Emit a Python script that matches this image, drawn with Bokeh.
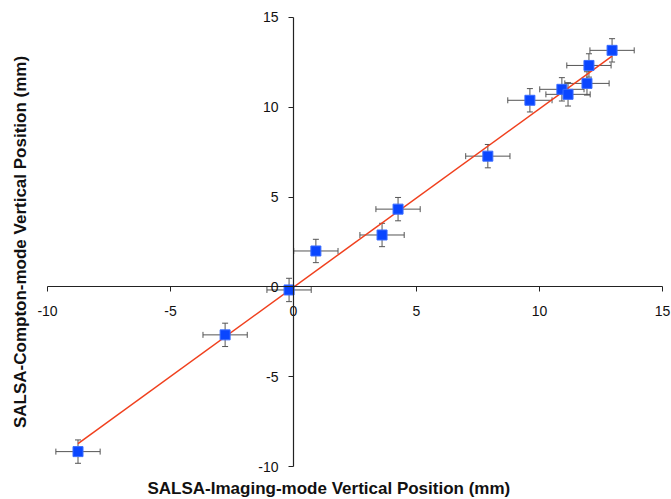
from bokeh.plotting import figure
from bokeh.models import LinearAxis, FixedTicker, Whisker, ColumnDataSource, Range1d, TeeHead, Title
from bokeh.embed import file_html
from bokeh.resources import INLINE

# data
imaging_x = [-8.76, -2.78, -0.18, 0.91, 3.60, 4.25, 7.90, 9.61, 10.91, 11.16, 11.93, 12.01, 12.95]
compton_y = [-9.17, -2.67, -0.17, 2.00, 2.89, 4.33, 7.28, 10.39, 11.00, 10.72, 11.33, 12.33, 13.17]
x_err = [0.9] * 13
y_err = [0.65] * 13
fit_x = [-8.76, 12.95]
fit_y = [-8.72, 12.85]
ticks = [-10, -5, 0, 5, 10, 15]
tick_labels = ["-10", "-5", "0", "5", "10", "15"]
axis_min, axis_max = -10, 15

src = ColumnDataSource(dict(
    x=imaging_x, y=compton_y,
    xl=[a - e for a, e in zip(imaging_x, x_err)], xu=[a + e for a, e in zip(imaging_x, x_err)],
    yl=[a - e for a, e in zip(compton_y, y_err)], yu=[a + e for a, e in zip(compton_y, y_err)],
))

# frame is padded beyond the axes so that end tick labels are not clipped
XPX, YPX = 24.6, 18.0
p = figure(width=671, height=499,
           x_range=Range1d(axis_min - 17 / XPX, axis_max + 9 / XPX),
           y_range=Range1d(axis_min - 9 / YPX, axis_max + 9 / YPX),
           output_backend="svg", toolbar_location=None,
           x_axis_location=None, y_axis_location=None,
           min_border_left=30, min_border_right=0, min_border_top=8, min_border_bottom=23)
p.outline_line_color = None
p.xgrid.visible = False
p.ygrid.visible = False

FONT = "Liberation Sans"

def style_tick_axis(ax):
    ax.ticker = FixedTicker(ticks=ticks)
    ax.bounds = (axis_min, axis_max)
    ax.major_label_overrides = {t: s for t, s in zip(ticks, tick_labels)}
    ax.minor_tick_line_color = None
    ax.major_tick_in = 0
    ax.major_tick_out = 5
    ax.axis_line_color = "#222222"
    ax.axis_line_width = 1.2
    ax.major_tick_line_color = "#222222"
    ax.major_label_text_font = FONT
    ax.major_label_text_font_size = "14px"
    ax.major_label_text_color = "#111111"

xa = LinearAxis(fixed_location=0)
style_tick_axis(xa)
xa.major_label_standoff = 14
p.add_layout(xa, "below")

ya = LinearAxis(fixed_location=0)
style_tick_axis(ya)
ya.major_label_standoff = 10
p.add_layout(ya, "left")

# y title as a tick-less axis
yt = LinearAxis(axis_label="SALSA-Compton-mode Vertical Position (mm)", ticker=FixedTicker(ticks=[]))
yt.axis_line_color = None
yt.major_tick_line_color = None
yt.minor_tick_line_color = None
yt.major_label_text_font_size = "0px"
yt.axis_label_text_font = FONT
yt.axis_label_text_font_style = "bold"
yt.axis_label_text_font_size = "17px"
yt.axis_label_text_color = "#111111"
yt.axis_label_standoff = 1
p.add_layout(yt, "left")

# x title
xt = Title(text="SALSA-Imaging-mode Vertical Position (mm)", align="left", offset=117,
           text_font=FONT, text_font_style="bold", text_font_size="17px",
           text_color="#111111", standoff=3)
p.add_layout(xt, "below")

def tee():
    return TeeHead(size=6, line_color="#555555", line_width=1)

# error bars
p.add_layout(Whisker(source=src, base="y", lower="xl", upper="xu", dimension="width",
                     line_color="#555555", line_width=1,
                     upper_head=tee(), lower_head=tee()))
p.add_layout(Whisker(source=src, base="x", lower="yl", upper="yu", dimension="height",
                     line_color="#555555", line_width=1,
                     upper_head=tee(), lower_head=tee()))

# fit line
p.line(fit_x, fit_y, line_color="#f0401e", line_width=1.5)

# markers
p.scatter("x", "y", source=src, marker="square", size=10,
          fill_color="#0a46ff", line_color="#3a6cff", line_width=1)

open("out.html", "w").write(file_html(p, INLINE))
